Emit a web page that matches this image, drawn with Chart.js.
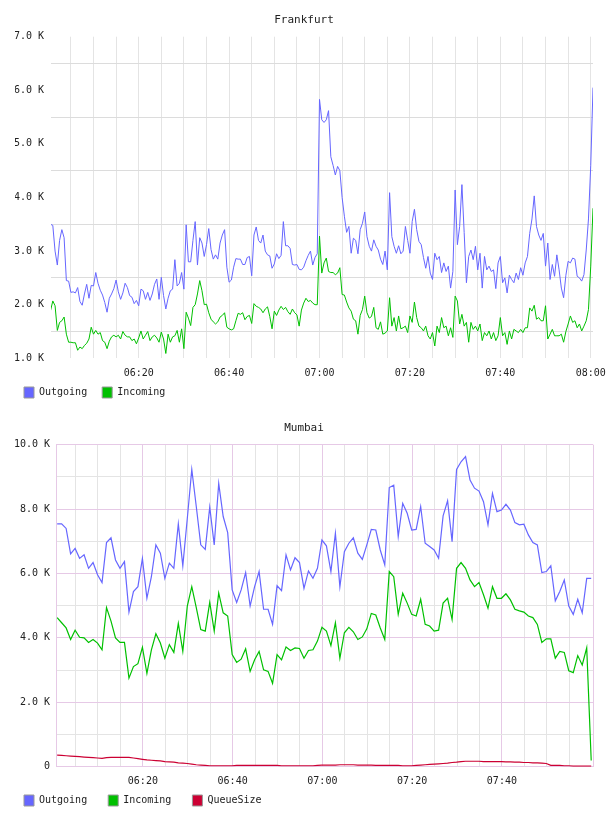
<!DOCTYPE html>
<html>
<head>
<meta charset="utf-8">
<title>Frankfurt / Mumbai</title>
<script src="https://cdn.jsdelivr.net/npm/chart.js@4.4.1/dist/chart.umd.min.js"></script>
<style>
  body { margin: 0; background: #fff; }
  .box { width: 608px; height: 408px; }
</style>
</head>
<body>
<div class="box"><canvas id="fra" width="608" height="408"></canvas></div>
<div class="box"><canvas id="mum" width="608" height="408"></canvas></div>
<script>
// times are minutes after 06:00
var timeTicks = [20, 40, 60, 80, 100, 120];
var timeLabels = ['06:20', '06:40', '07:00', '07:20', '07:40', '08:00'];
var fraGrid = [5, 10, 15, 20, 25, 30, 35, 40, 45, 50, 55, 60, 65, 70, 75, 80, 85, 90, 95, 100, 105, 110, 115, 120];
var mumGrid = [5, 10, 15, 20, 25, 30, 35, 40, 45, 50, 55, 60, 65, 70, 75, 80, 85, 90, 95, 100, 105, 110, 115];

// Frankfurt: one sample every 30 s starting 06:00:30
var fraStart = 0.5, fraStep = 0.5;
var fraOutgoing = [
  3500, 3480, 3000, 2740, 3200, 3400, 3250, 2450, 2440, 2230,
  2240, 2220, 2320, 2060, 1990, 2200, 2380, 2120, 2360, 2350,
  2600, 2400, 2270, 2180, 2040, 1860, 2120, 2200, 2300, 2460,
  2240, 2100, 2220, 2400, 2320, 2170, 2140, 2020, 2080, 1980,
  2290, 2260, 2100, 2230, 2080, 2200, 2380, 2480, 2100, 2510,
  2170, 1920, 2120, 2260, 2290, 2840, 2350, 2400, 2600, 2290,
  3490, 2800, 2800, 3200, 3550, 2740, 3250, 3150, 2900, 3120,
  3420, 3030, 2850, 2930, 2850, 3150, 3300, 3400, 2700, 2420,
  2460, 2700, 2860, 2850, 2850, 2750, 2750, 2880, 2900, 2540,
  3300, 3450, 3200, 3150, 3300, 3000, 2930, 2910, 2680, 2760,
  2950, 2860, 2920, 3550, 3100, 3100, 3050, 2750, 2740, 2750,
  2660, 2650, 2700, 2820, 2920, 3000, 2740, 2880, 2950, 5830,
  5450, 5400, 5450, 5620, 4760, 4600, 4420, 4580, 4500, 4000,
  3650, 3350, 3460, 2960, 3240, 3200, 2950, 3400, 3520, 3730,
  3270, 3090, 3000, 3210, 3090, 3020, 2850, 2750, 3000, 2650,
  4090, 3270, 3090, 2960, 3100, 2950, 3000, 3460, 3200, 2960,
  3550, 3780, 3400, 3180, 3120, 2880, 2680, 2900, 2590, 2470,
  2960, 2840, 2900, 2600, 2780, 2620, 2720, 2310, 2620, 4140,
  3120, 3460, 4240, 3350, 2410, 2900, 3020, 2840, 3090, 2650,
  2960, 2310, 2900, 2650, 2720, 2620, 2650, 2300, 2780, 2900,
  2410, 2500, 2220, 2550, 2470, 2410, 2590, 2470, 2690, 2550,
  2780, 2900, 3330, 3600, 4030, 3460, 3300, 3200, 3330, 2720,
  3150, 2470, 2750, 2530, 2930, 2650, 2310, 2130, 2550, 2810,
  2780, 2870, 2850, 2530, 2500, 2440, 2560, 3020, 3600, 4600, 6050
];
var fraIncoming = [
  1890, 2070, 1980, 1520, 1670, 1700, 1770, 1450, 1300, 1300,
  1290, 1290, 1150, 1210, 1180, 1240, 1280, 1360, 1580, 1450,
  1520, 1450, 1480, 1330, 1300, 1180, 1320, 1400, 1430, 1400,
  1430, 1360, 1500, 1430, 1400, 1400, 1330, 1360, 1270, 1380,
  1510, 1360, 1430, 1500, 1330, 1400, 1430, 1380, 1300, 1490,
  1360, 1090, 1450, 1300, 1400, 1420, 1520, 1300, 1550, 1180,
  1860, 1750, 1610, 1950, 2000, 2200, 2450, 2260, 2000, 2010,
  1850, 1730, 1680, 1640, 1680, 1770, 1800, 1850, 1580, 1550,
  1530, 1550, 1700, 1840, 1820, 1850, 1720, 1780, 1800, 1650,
  2020, 1970, 1950, 1920, 1850, 1920, 1960, 1780, 1550, 1880,
  1800, 1900, 1970, 1910, 1950, 1870, 1820, 1920, 1850, 1810,
  1600, 1900, 2030, 2120, 2060, 2080, 2030, 2000, 2000, 3280,
  2590, 2780, 2870, 2620, 2600, 2600, 2560, 2590, 2690, 2190,
  2180, 2050, 1940, 1880, 1730, 1700, 1450, 1800, 1910, 2160,
  1850, 1750, 1780, 1950, 1570, 1540, 1680, 1450, 1470, 1510,
  2130, 1600, 1760, 1510, 1790, 1550, 1570, 1600, 1480, 1790,
  1670, 2050, 1760, 1600, 1570, 1510, 1600, 1420, 1360, 1480,
  1230, 1600, 1480, 1760, 1570, 1600, 1420, 1570, 1390, 2160,
  2070, 1640, 1820, 1600, 1670, 1300, 1670, 1540, 1600, 1510,
  1640, 1330, 1480, 1420, 1510, 1360, 1480, 1330, 1420, 1760,
  1420, 1480, 1260, 1510, 1360, 1540, 1510, 1480, 1540, 1480,
  1570, 1570, 1940, 1880, 1990, 1730, 1760, 1700, 1700, 1980,
  1360, 1450, 1540, 1420, 1420, 1420, 1450, 1300, 1500, 1640,
  1790, 1670, 1700, 1570, 1640, 1510, 1600, 1700, 1910, 2720, 3800
];

// Mumbai: one sample per minute starting 06:00:54
var mumStart = 0.9, mumStep = 1;
var mumOutgoing = [
  7540, 7540, 7400, 6610, 6780, 6470, 6580, 6160, 6340, 5960,
  5720, 6960, 7110, 6420, 6160, 6370, 4800, 5440, 5590, 6470,
  5230, 5900, 6890, 6630, 5850, 6320, 6160, 7540, 6240, 7710,
  9230, 8080, 6890, 6750, 8060, 6890, 8800, 7770, 7270, 5490,
  5100, 5490, 6030, 4990, 5590, 6060, 4890, 4890, 4420, 5620,
  5470, 6580, 6110, 6490, 6340, 5540, 6080, 5850, 6160, 7040,
  6860, 6060, 7250, 5590, 6680, 6940, 7110, 6630, 6440, 6890,
  7370, 7350, 6730, 6270, 8670, 8740, 7150, 8180, 7870, 7350,
  7370, 8080, 6940, 6840, 6730, 6470, 7790, 8260, 6990, 9230,
  9470, 9630, 8900, 8650, 8560, 8230, 7510, 8490, 7920, 7970,
  8150, 7970, 7580, 7510, 7530, 7200, 6960, 6890, 6030, 6060,
  6240, 5150, 5440, 5800, 4990, 4730, 5200, 4780, 5850, 5850
];
var mumIncoming = [
  4630, 4470, 4310, 3950, 4240, 4020, 4000, 3860, 3950, 3840,
  3630, 4940, 4520, 4000, 3860, 3860, 2750, 3110, 3200, 3710,
  2900, 3630, 4130, 3840, 3370, 3790, 3550, 4450, 3580, 4990,
  5590, 4940, 4260, 4210, 5100, 4210, 5390, 4780, 4680, 3480,
  3240, 3340, 3660, 2960, 3320, 3580, 3010, 2960, 2590, 3480,
  3320, 3720, 3610, 3690, 3670, 3370, 3610, 3630, 3900, 4330,
  4210, 3760, 4470, 3370, 4160, 4330, 4190, 3950, 4030, 4280,
  4760, 4710, 4310, 3950, 6060, 5900, 4730, 5390, 5080, 4730,
  4680, 5200, 4420, 4370, 4210, 4240, 5080, 5230, 4570, 6160,
  6340, 6160, 5800, 5590, 5720, 5340, 4920, 5590, 5230, 5230,
  5370, 5180, 4890, 4840, 4800, 4680, 4630, 4420, 3860, 3970,
  3970, 3370, 3580, 3550, 2980, 2920, 3450, 3160, 3690, 190
];
var mumQueueSize = [
  360, 350, 340, 330, 320, 310, 300, 290, 280, 270,
  260, 280, 290, 290, 290, 290, 290, 270, 250, 230,
  210, 200, 190, 180, 160, 150, 140, 120, 110, 100,
  80, 60, 50, 40, 30, 30, 30, 30, 30, 30,
  40, 40, 40, 40, 40, 40, 40, 40, 40, 40,
  30, 30, 30, 30, 30, 30, 30, 30, 40, 50,
  50, 50, 50, 60, 60, 60, 60, 50, 50, 50,
  50, 40, 40, 40, 40, 40, 40, 30, 30, 30,
  40, 50, 60, 70, 80, 90, 100, 110, 130, 140,
  160, 170, 170, 170, 170, 160, 160, 160, 160, 160,
  150, 150, 140, 140, 130, 130, 120, 120, 110, 100,
  40, 40, 40, 30, 30, 20, 20, 20, 20, 20
];

var blue = '#6666ff', green = '#00c000', red = '#cc0033';
var pink = '#e6c9e6', lightGrid = '#e4e4e4';

Chart.defaults.font.family = "'DejaVu Sans Mono', monospace";
Chart.defaults.font.size = 10;
Chart.defaults.color = '#222';

function series(values, start, step) {
  return values.map(function (v, i) { return {x: start + i * step, y: v}; });
}

function line(label, values, start, step, color, width) {
  return {
    label: label,
    data: series(values, start, step),
    borderColor: color,
    backgroundColor: color,
    borderWidth: width,
    pointRadius: 0,
    tension: 0
  };
}

function timeLabel(v) {
  var k = timeTicks.indexOf(v);
  return k < 0 ? '' : timeLabels[k];
}

// rrd style legend; the trailing spaces only widen the gap between items
function legendOpts(spacer) {
  return {
    position: 'bottom',
    align: 'start',
    labels: {
      boxWidth: 10,
      boxHeight: 11,
      padding: 9,
      color: '#222',
      font: {size: 10},
      generateLabels: function (chart) {
        return Chart.defaults.plugins.legend.labels.generateLabels(chart).map(function (l) {
          l.text = l.text + spacer;
          l.strokeStyle = '#999';
          l.lineWidth = 1;
          return l;
        });
      }
    }
  };
}

function titleOpts(text) {
  return {
    display: true,
    text: text,
    color: '#222',
    font: {size: 11, weight: 'normal'},
    padding: {top: 13.4, bottom: 10.1}
  };
}

var tickFont = {size: 10, lineHeight: 1};

var fra = new Chart(document.getElementById('fra').getContext('2d'), {
  type: 'line',
  data: {
    datasets: [
      line('Outgoing', fraOutgoing, fraStart, fraStep, blue, 1),
      line('Incoming', fraIncoming, fraStart, fraStep, green, 1)
    ]
  },
  options: {
    responsive: false,
    animation: false,
    events: [],
    layout: {padding: {left: 15, right: 15, top: 0, bottom: 0}},
    plugins: {
      title: titleOpts('Frankfurt'),
      legend: legendOpts(' '),
      tooltip: {enabled: false}
    },
    scales: {
      x: {
        type: 'linear',
        min: 0.6,
        max: 120.5,
        border: {display: false},
        grid: {color: lightGrid, drawTicks: false},
        ticks: {padding: 9.7, autoSkip: false, maxRotation: 0, font: tickFont, callback: timeLabel},
        afterBuildTicks: function (s) { s.ticks = fraGrid.map(function (v) { return {value: v}; }); },
        afterFit: function (s) { s.height = 19.7; s.paddingLeft = 0; s.paddingRight = 0; }
      },
      y: {
        min: 1000,
        max: 7000,
        border: {display: false},
        grid: {
          drawTicks: false,
          color: function (c) { return c.tick.value % 1000 === 0 ? 'rgba(0,0,0,0)' : '#dcdcdc'; }
        },
        ticks: {
          stepSize: 500,
          padding: 7,
          autoSkip: false,
          callback: function (v) { return v % 1000 === 0 ? (v / 1000).toFixed(1) + ' K' : ''; }
        },
        afterFit: function (s) { s.width = 36; s.paddingTop = 0; s.paddingBottom = 0; }
      }
    }
  }
});

var mum = new Chart(document.getElementById('mum').getContext('2d'), {
  type: 'line',
  data: {
    datasets: [
      line('Outgoing', mumOutgoing, mumStart, mumStep, blue, 1.2),
      line('Incoming', mumIncoming, mumStart, mumStep, green, 1.2),
      line('QueueSize', mumQueueSize, mumStart, mumStep, red, 1.2)
    ]
  },
  options: {
    responsive: false,
    animation: false,
    events: [],
    layout: {padding: {left: 15, right: 15, top: 0, bottom: 0}},
    plugins: {
      title: titleOpts('Mumbai'),
      legend: legendOpts('  '),
      tooltip: {enabled: false}
    },
    scales: {
      x: {
        type: 'linear',
        min: 0.8,
        max: 120.3,
        border: {display: false},
        grid: {
          drawTicks: false,
          color: function (c) {
            var v = c.tick.value;
            return (v % 20 === 0 || v === 120.3) ? pink : lightGrid;
          }
        },
        ticks: {padding: 9.7, autoSkip: false, maxRotation: 0, font: tickFont, callback: timeLabel},
        afterBuildTicks: function (s) {
          s.ticks = mumGrid.concat([120.3]).map(function (v) { return {value: v}; });
        },
        afterFit: function (s) { s.height = 19.3; s.paddingLeft = 0; s.paddingRight = 0; }
      },
      y: {
        min: 0,
        max: 10000,
        border: {display: true, color: pink},
        grid: {
          drawTicks: false,
          color: function (c) { return c.tick.value % 2000 === 0 ? pink : lightGrid; }
        },
        ticks: {
          stepSize: 1000,
          padding: 6.7,
          autoSkip: false,
          callback: function (v) {
            if (v === 0) return '0';
            return v % 2000 === 0 ? (v / 1000).toFixed(1) + ' K' : '';
          }
        },
        afterFit: function (s) { s.width = 41.7; s.paddingTop = 0; s.paddingBottom = 0; }
      }
    }
  }
});
</script>
</body>
</html>
